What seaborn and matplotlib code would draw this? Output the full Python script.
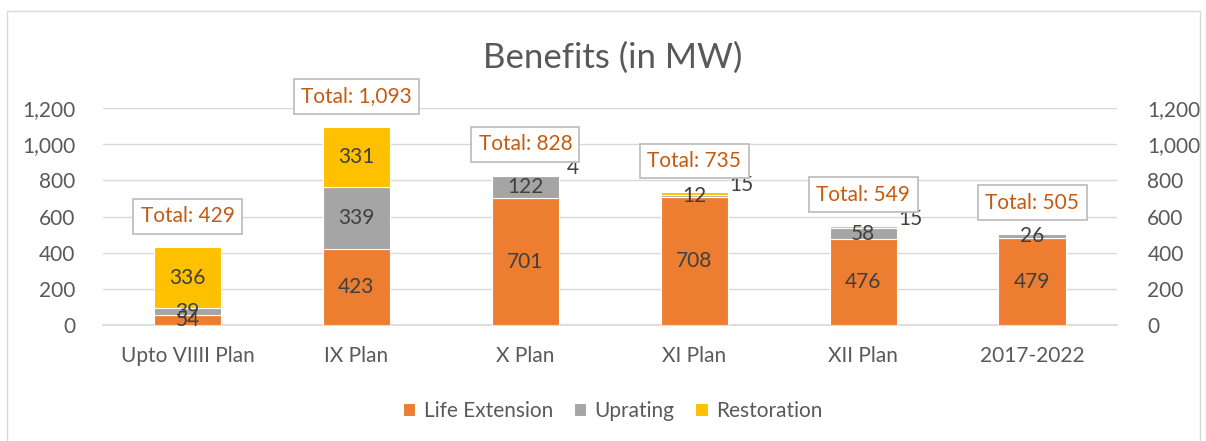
import numpy as np
import pandas as pd
import matplotlib
matplotlib.use("Agg")
import matplotlib.pyplot as plt
import seaborn as sns
from matplotlib.patches import Rectangle
from matplotlib.ticker import FuncFormatter

plans = ['Upto VIIII Plan', 'IX Plan', 'X Plan', 'XI Plan', 'XII Plan', '2017-2022']
life_ext = [54, 423, 701, 708, 476, 479]
uprating = [39, 339, 122, 12, 58, 26]
restoration = [336, 331, 4, 15, 15, 0]
totals = [429, 1093, 828, 735, 549, 505]

sns.set_theme(style='white')
plt.rcParams['font.family'] = ['Lato', 'DejaVu Sans']

TXT = '#595959'
colors = {'Life Extension': '#ED7D31', 'Uprating': '#A5A5A5', 'Restoration': '#FFC000'}

fig = plt.figure(figsize=(12.06, 4.41), dpi=100)
ax = fig.add_axes([0.0854, 0.263, 0.8406, 0.492])

df = pd.DataFrame({'plan': plans, 'Life Extension': life_ext,
                   'Uprating': uprating, 'Restoration': restoration})
bottom = np.zeros(len(plans))
for name in ['Life Extension', 'Uprating', 'Restoration']:
    sns.barplot(data=df, x='plan', y=name, color=colors[name], width=0.4,
                bottom=bottom, label=name, ax=ax, saturation=1,
                edgecolor='white', linewidth=0.8, zorder=3)
    vals = df[name].values
    for i, v in enumerate(vals):
        if v == 0:
            continue
        if name == 'Restoration' and v < 20:
            # small caps pushed out to the side
            ax.annotate(str(v), (i, bottom[i] + v), xytext=(47, 7),
                        textcoords='offset pixels', ha='center', va='center',
                        fontsize=15, color='#404040', zorder=5,
                        annotation_clip=False)
        else:
            ax.text(i, bottom[i] + v / 2, str(v), ha='center', va='center',
                    fontsize=15, color='#404040', zorder=5)
    bottom = bottom + vals

for i, t in enumerate(totals):
    ax.annotate(f'Total: {t:,}', (i, t), xytext=(0, 31), textcoords='offset pixels',
                ha='center', va='center', fontsize=15, color='#C55A11', zorder=6,
                annotation_clip=False,
                bbox=dict(boxstyle='square,pad=0.35', fc='white', ec='#BFBFBF', lw=1.3))

ax.set_ylim(0, 1200)
ax.set_xlim(-0.5, 5.5)
ax.set_yticks(range(0, 1201, 200))
fmt = FuncFormatter(lambda v, p: f'{int(v):,}')
ax.yaxis.set_major_formatter(fmt)
ax.grid(axis='y', color='#D9D9D9', lw=1, zorder=0)
ax.set_xlabel('')
ax.set_ylabel('')
for s in ['top', 'left', 'right']:
    ax.spines[s].set_visible(False)
ax.spines['bottom'].set_color('#D9D9D9')
ax.tick_params(axis='both', colors=TXT, labelsize=15, length=0, pad=20)
ax.tick_params(axis='x', pad=15)

ax2 = ax.twinx()
ax2.set_ylim(0, 1200)
ax2.set_yticks(range(0, 1201, 200))
ax2.yaxis.set_major_formatter(fmt)
for s in ['top', 'left', 'right', 'bottom']:
    ax2.spines[s].set_visible(False)
ax2.tick_params(axis='y', colors=TXT, labelsize=15, length=0, pad=22)

ax.get_legend().remove()
handles, labels = ax.get_legend_handles_labels()
fig.legend(handles, labels, loc='center', bbox_to_anchor=(0.508, 0.068), ncol=3,
           frameon=False, fontsize=15, handlelength=0.6, handleheight=0.6,
           handletextpad=0.4, columnspacing=1.0, labelcolor=TXT)

fig.text(0.508, 0.87, 'Benefits (in MW)', ha='center', va='center', fontsize=25, color=TXT)

fig.patches.append(Rectangle((0.006, -0.01), 0.989, 0.985, transform=fig.transFigure,
                             fill=False, ec='#D9D9D9', lw=1))

fig.savefig('out.png', dpi=100)
